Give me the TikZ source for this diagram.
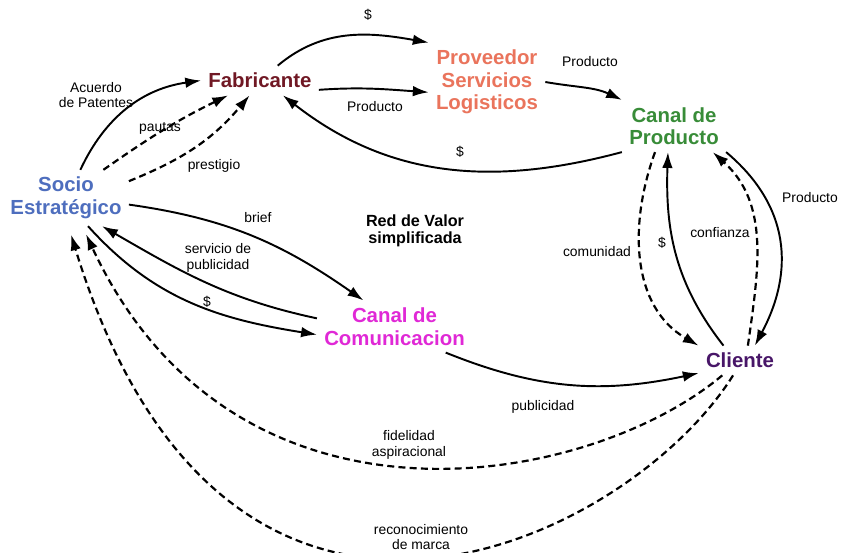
\documentclass[tikz,border=0pt]{standalone}
\usepackage{fontspec}
\setmainfont{Liberation Sans}
\usetikzlibrary{arrows.meta}
\definecolor{socblue}{RGB}{78,110,190}
\definecolor{fabred}{RGB}{112,24,36}
\definecolor{provsal}{RGB}{234,116,92}
\definecolor{cpgreen}{RGB}{56,140,56}
\definecolor{ccmag}{RGB}{224,40,214}
\definecolor{clipur}{RGB}{72,22,104}
\begin{document}
\begin{tikzpicture}[
        actor/.style={font=\fontsize{11.6}{12.8}\selectfont\bfseries,align=center,inner sep=4pt},
        lbl/.style={font=\fontsize{7.9}{8.7}\selectfont,align=center,inner sep=1pt},
        flow/.style={line width=1.1pt,-{Latex[length=9pt,width=6pt]}},
        soft/.style={flow,line width=1.25pt,dash pattern=on 4pt off 2.4pt}]
    \useasboundingbox[fill=white] (0,0) rectangle (16.82,-11.06);
    \node[actor,text=socblue] (S) at (1.32,-3.96) {Socio\\Estratégico};
    \node[actor,text=fabred] (F) at (5.20,-1.61) {Fabricante};
    \node[actor,text=provsal] (PSL) at (9.74,-1.64) {Proveedor\\Servicios\\Logisticos};
    \node[actor,text=cpgreen] (CP) at (13.48,-2.52) {Canal de\\Producto};
    \node[actor,text=ccmag] (CC) at (7.89,-6.53) {Canal de\\Comunicacion};
    \node[actor,text=clipur] (C) at (14.80,-7.21) {Cliente};
    \node[font=\fontsize{9.2}{9.5}\selectfont\bfseries,align=center] (RV) at (8.30,-4.62) {Red de Valor\\simplificada};
    \draw[flow] (S.63) to[out=65,in=188] (F.west);
    \draw[soft] (S.37) to[out=35,in=206] (F.205);
    \draw[soft] (S.15) to[out=22,in=230] (F.235);
    \draw[flow] (F.40) to[out=40,in=170] (PSL.north west);
    \draw[flow] (F.-9) to[out=4,in=176] (PSL.190);
    \draw[flow] (PSL.east) to[out=-10,in=155] (CP.north west);
    \draw[flow] (CP.south west) to[out=195,in=-38] (F.-33);
    \draw[flow] (S.-6) to[out=-8,in=145] (CC.140);
    \draw[flow] (CC.174) to[out=168,in=-30] (S.-38);
    \draw[flow] (S.-52) to[out=-48,in=171] (CC.186);
    \draw[flow] (CC.-27) to[out=-22,in=192] (C.197);
    \draw[soft,shorten >=5pt] (C.220) .. controls +(220:3.5) and +(-65:7.2) .. (S.-60);
    \draw[soft,shorten >=5pt] (C.245) .. controls +(238:3.92) and +(-73:10.77) .. (S.-85);
    \draw[soft] (CP.234) to[out=250,in=150] (C.north west);
    \draw[flow] (C.138) to[out=128,in=-92] (CP.257);
    \draw[soft] (C.62) to[out=82,in=-42] (CP.-34);
    \draw[flow] (CP.south east) to[out=-40,in=62,looseness=1.1] (C.45);
    \node[lbl] (lAc) at (1.92,-1.90) {Acuerdo\\de Patentes};
    \node[lbl] (lPa) at (3.20,-2.56) {pautas};
    \node[lbl] (lPr) at (4.28,-3.32) {prestigio};
    \node[lbl] (lD1) at (7.36,-0.30) {\$};
    \node[lbl] (lPF) at (7.50,-2.14) {Producto};
    \node[lbl] (lPP) at (11.80,-1.24) {Producto};
    \node[lbl] (lD2) at (9.20,-3.04) {\$};
    \node[lbl] (lBr) at (5.16,-4.36) {brief};
    \node[lbl] (lSp) at (4.36,-5.16) {servicio de\\publicidad};
    \node[lbl] (lD3) at (4.14,-6.04) {\$};
    \node[lbl] (lPu) at (10.86,-8.14) {publicidad};
    \node[lbl] (lFi) at (8.18,-8.90) {fidelidad\\aspiracional};
    \node[lbl,fill=white] (lRe) at (8.42,-10.74) {reconocimiento\\de marca};
    \node[lbl] (lCo) at (11.94,-5.04) {comunidad};
    \node[lbl] (lD4) at (13.24,-4.86) {\$};
    \node[lbl] (lCf) at (14.40,-4.66) {confianza};
    \node[lbl] (lPC) at (16.20,-3.96) {Producto};
\end{tikzpicture}
\end{document}
